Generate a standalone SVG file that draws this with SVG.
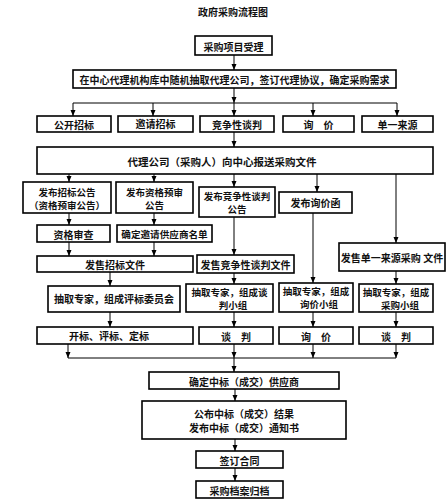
<svg xmlns="http://www.w3.org/2000/svg" width="446" height="500" viewBox="0 0 446 500">
<style>
.b{fill:#fff;stroke:#000;stroke-width:1.6}
.t{font-family:"Noto Sans CJK SC","Noto Sans",sans-serif;font-size:10px;font-weight:bold;fill:#111;text-anchor:middle;dominant-baseline:central}
.s{font-size:9.5px}
.c{fill:none;stroke:#000;stroke-width:1}
</style>
<defs>
<marker id="a" markerUnits="userSpaceOnUse" markerWidth="6" markerHeight="6" refX="6" refY="3" orient="auto"><path d="M0,0.5 L6,3 L0,5.5 z" fill="#000"/></marker>
</defs>
<rect width="446" height="500" fill="#fff"/>
<text class="t" x="233" y="11">政府采购流程图</text>
<g id="connectors">
<path class="c" marker-end="url(#a)" d="M234,55 V70"/>
<path class="c" marker-end="url(#a)" d="M234,88 V103"/>
<path class="c" d="M73,103 H397"/>
<path class="c" marker-end="url(#a)" d="M73,103 V116"/>
<path class="c" marker-end="url(#a)" d="M153,103 V116"/>
<path class="c" marker-end="url(#a)" d="M234,103 V116"/>
<path class="c" marker-end="url(#a)" d="M313,103 V116"/>
<path class="c" marker-end="url(#a)" d="M397,103 V116"/>
<path class="c" marker-end="url(#a)" d="M234,132 V147"/>
<path class="c" marker-end="url(#a)" d="M69,174 V182"/>
<path class="c" marker-end="url(#a)" d="M154,174 V182"/>
<path class="c" marker-end="url(#a)" d="M234,174 V187"/>
<path class="c" marker-end="url(#a)" d="M317,174 V192"/>
<path class="c" marker-end="url(#a)" d="M396,174 V243"/>
<path class="c" marker-end="url(#a)" d="M69,213 V225"/>
<path class="c" marker-end="url(#a)" d="M69,242 V256"/>
<path class="c" marker-end="url(#a)" d="M154,213 V225"/>
<path class="c" marker-end="url(#a)" d="M154,242 V256"/>
<path class="c" marker-end="url(#a)" d="M234,217 V255"/>
<path class="c" marker-end="url(#a)" d="M313,213 V283"/>
<path class="c" marker-end="url(#a)" d="M110,272 V286"/>
<path class="c" marker-end="url(#a)" d="M234,273 V284"/>
<path class="c" marker-end="url(#a)" d="M396,271 V284"/>
<path class="c" marker-end="url(#a)" d="M110,312 V327"/>
<path class="c" marker-end="url(#a)" d="M234,312 V327"/>
<path class="c" marker-end="url(#a)" d="M313,312 V327"/>
<path class="c" marker-end="url(#a)" d="M396,312 V327"/>
<path class="c" marker-end="url(#a)" d="M68,344 V358"/>
<path class="c" marker-end="url(#a)" d="M234,344 V358"/>
<path class="c" marker-end="url(#a)" d="M313,344 V358"/>
<path class="c" marker-end="url(#a)" d="M396,344 V358"/>
<path class="c" d="M68,358 H396"/>
<path class="c" marker-end="url(#a)" d="M234,358 V372"/>
<path class="c" marker-end="url(#a)" d="M235,389 V401"/>
<path class="c" marker-end="url(#a)" d="M235,439 V451"/>
<path class="c" marker-end="url(#a)" d="M235,468 V481"/>
</g>
<g id="n1"><rect class="b" x="195" y="36" width="77" height="19"/><text class="t" x="233.5" y="46">采购项目受理</text></g>
<g id="n2"><rect class="b" x="73" y="70" width="323" height="18"/><text class="t" x="234.5" y="79">在中心代理机构库中随机抽取代理公司，签订代理协议，确定采购需求</text></g>
<g id="m1"><rect class="b" x="37" y="116" width="74" height="16"/><text class="t" x="74" y="124">公开招标</text></g>
<g id="m2"><rect class="b" x="118" y="116" width="75" height="16"/><text class="t" x="155.5" y="123">邀请招标</text></g>
<g id="m3"><rect class="b" x="200" y="116" width="74" height="16"/><text class="t" x="237" y="124">竞争性谈判</text></g>
<g id="m4"><rect class="b" x="283" y="116" width="71" height="16"/><text class="t" x="318.5" y="124">询　价</text></g>
<g id="m5"><rect class="b" x="362" y="116" width="71" height="16"/><text class="t" x="397.5" y="124">单一来源</text></g>
<g id="n3"><rect class="b" x="37" y="147" width="396" height="27"/><text class="t" x="222" y="161" style="font-size:10.5px">代理公司（采购人）向中心报送采购文件</text></g>
<g id="a1"><rect class="b" x="23" y="182" width="88" height="31"/><text class="t s" x="67" y="191.5">发布招标公告</text><text class="t s" x="67" y="204.5" textLength="76" lengthAdjust="spacingAndGlyphs">（资格预审公告）</text></g>
<g id="a2"><rect class="b" x="116" y="182" width="77" height="31"/><text class="t s" x="154.5" y="192">发布资格预审</text><text class="t s" x="154.5" y="205">公告</text></g>
<g id="a3"><rect class="b" x="199" y="187" width="76" height="30"/><text class="t s" x="237" y="196">发布竞争性谈判</text><text class="t s" x="237" y="209">公告</text></g>
<g id="a4"><rect class="b" x="279" y="192" width="73" height="21"/><text class="t" x="315.5" y="202">发布询价函</text></g>
<g id="b1"><rect class="b" x="37" y="225" width="73" height="17"/><text class="t" x="73.5" y="234">资格审查</text></g>
<g id="b2"><rect class="b" x="117" y="225" width="95" height="17"/><text class="t" x="164.5" y="234" style="font-size:9.6px">确定邀请供应商名单</text></g>
<g id="c1"><rect class="b" x="37" y="256" width="156" height="16"/><text class="t" x="115" y="264">发售招标文件</text></g>
<g id="c2"><rect class="b" x="197" y="255" width="97" height="18"/><text class="t" x="245.5" y="264">发售竞争性谈判文件</text></g>
<g id="c3"><rect class="b" x="339" y="243" width="106" height="28"/><text class="t" x="392" y="257">发售单一来源采购 文件</text></g>
<g id="d1"><rect class="b" x="48" y="286" width="132" height="26"/><text class="t" x="114" y="298">抽取专家，组成评标委员会</text></g>
<g id="d2"><rect class="b" x="186" y="284" width="87" height="28"/><text class="t s" x="229.5" y="291.5">抽取专家，组成谈</text><text class="t s" x="233" y="304.5">判小组</text></g>
<g id="d3"><rect class="b" x="279" y="283" width="74" height="29"/><text class="t s" x="316" y="291">抽取专家，组成</text><text class="t s" x="319" y="304">询价小组</text></g>
<g id="d4"><rect class="b" x="359" y="284" width="74" height="28"/><text class="t s" x="396" y="291.5">抽取专家，组成</text><text class="t s" x="400" y="304.5">采购小组</text></g>
<g id="e1"><rect class="b" x="37" y="327" width="156" height="17"/><text class="t" x="109" y="335">开标、评标、定标</text></g>
<g id="e2"><rect class="b" x="199" y="327" width="74" height="17"/><text class="t" x="236" y="336">谈　判</text></g>
<g id="e3"><rect class="b" x="279" y="327" width="74" height="17"/><text class="t" x="316" y="336">询　价</text></g>
<g id="e4"><rect class="b" x="359" y="327" width="74" height="17"/><text class="t" x="396" y="336">谈　判</text></g>
<g id="f1"><rect class="b" x="149" y="372" width="190" height="17"/><text class="t" x="244" y="381">确定中标（成交）供应商</text></g>
<g id="f2"><rect class="b" x="142" y="401" width="204" height="38"/><text class="t" x="244" y="413">公布中标（成交）结果</text><text class="t" x="244" y="427">发布中标（成交）通知书</text></g>
<g id="f3"><rect class="b" x="196" y="451" width="87" height="17"/><text class="t" x="239.5" y="460">签订合同</text></g>
<g id="f4"><rect class="b" x="196" y="481" width="87" height="17"/><text class="t" x="239.5" y="490">采购档案归档</text></g>
</svg>
